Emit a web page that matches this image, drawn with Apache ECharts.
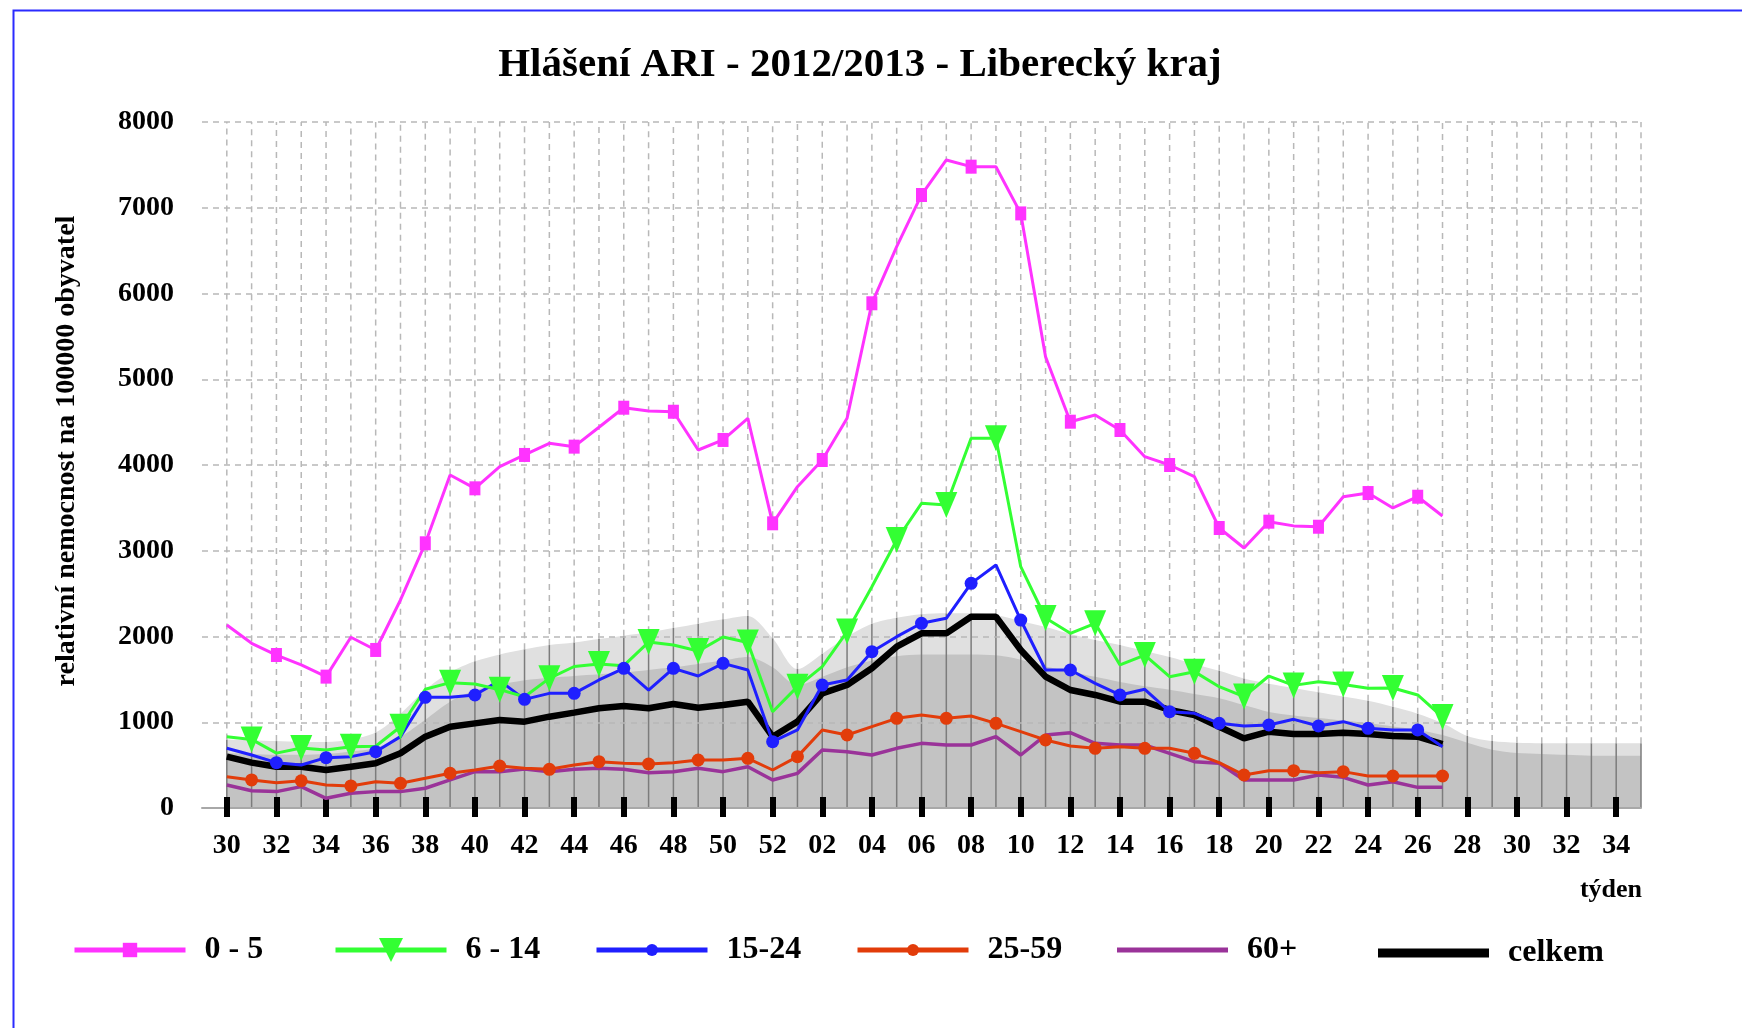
<!DOCTYPE html>
<html><head><meta charset="utf-8">
<script src="https://cdn.jsdelivr.net/npm/echarts@6/dist/echarts.min.js"></script>
<style>html,body{margin:0;padding:0;background:#fff}#c{width:1742px;height:1028px}</style>
</head><body><div id="c"></div><script>
// ---------- DATA ----------
const titleText = 'Hlášení ARI - 2012/2013 - Liberecký kraj';
const yName = 'relativní nemocnost na 100000 obyvatel';
const xName = 'týden';
const weeks = ['29','30','31','32','33','34','35','36','37','38','39','40','41','42','43','44','45','46','47','48','49','50','51','52',
  '01','02','03','04','05','06','07','08','09','10','11','12','13','14','15','16','17','18','19','20','21','22','23','24','25','26','27','28','29','30','31','32','33','34','35'];
const yTicks = [0,1000,2000,3000,4000,5000,6000,7000,8000];
const seriesNames = ['0 - 5','6 - 14','15-24','25-59','60+','celkem'];
// values for weeks 30/2012 ... 27/2013
const age0_5 = [2134,1921,1784,1668,1532,1991,1843,2426,3087,3883,3728,3980,4117,4253,4214,4440,4668,4630,4621,4175,4292,4545,3320,
  3747,4058,4545,5886,6546,7149,7557,7479,7479,6934,5263,4505,4583,4408,4097,4000,3864,3265,3032,3339,3290,3280,3630,3673,3499,3630,3405];
const age6_14 = [830,800,640,700,676,715,720,948,1384,1462,1446,1380,1298,1512,1650,1680,1660,1935,1900,1830,1995,1930,1123,
  1415,1648,2057,2581,3125,3553,3534,4311,4311,2814,2216,2037,2154,1668,1784,1531,1590,1415,1300,1539,1430,1473,1440,1396,1400,1318,1060];
const age15_24 = [696,618,529,501,587,599,657,832,1291,1291,1318,1485,1267,1337,1337,1493,1629,1376,1629,1539,1687,1609,774,
  910,1434,1493,1823,1998,2154,2212,2620,2834,2192,1609,1609,1454,1318,1384,1123,1104,987,956,968,1034,956,1007,929,910,910,715];
const age25_59 = [365,327,295,318,268,257,307,288,346,405,443,490,463,451,501,540,521,513,529,560,560,579,443,
  599,910,851,949,1046,1085,1046,1073,987,890,793,723,696,715,696,696,638,529,385,435,435,412,424,373,373,373,373];
const age60 = [268,202,191,249,113,171,191,191,230,327,424,424,455,424,451,463,451,412,424,463,424,482,327,
  404,676,657,618,696,754,735,735,832,618,851,878,754,735,735,638,540,521,327,327,327,385,358,268,307,241,241];
const total = [599,529,482,482,443,482,521,638,832,948,987,1026,1007,1065,1112,1163,1190,1163,1213,1170,1201,1240,832,
  1007,1337,1434,1629,1881,2037,2037,2231,2231,1843,1532,1376,1318,1240,1240,1143,1085,948,812,890,863,863,878,863,840,832,746];
// reference bands for weeks 30/2012 ... 35/2013
const bandUpper = [800,790,780,770,770,800,880,1100,1380,1580,1710,1790,1850,1900,1930,1970,2010,2050,2100,2150,2200,2240,1980,
  1620,1800,2000,2150,2220,2260,2270,2270,2250,2180,2110,2030,1960,1900,1830,1760,1680,1600,1510,1450,1400,1350,1300,1250,1180,1100,990,840,780,760,755,755,755,755,755];
const bandLower = [640,630,620,620,630,660,700,830,1030,1240,1370,1440,1490,1520,1540,1560,1580,1610,1640,1680,1720,1760,1640,
  1430,1530,1640,1720,1770,1790,1790,1790,1780,1730,1650,1590,1530,1470,1420,1380,1330,1280,1200,1120,1080,1050,1020,990,950,910,850,760,680,640,630,620,610,610,610];

// ---------- CHART ----------
const FONT = "'Liberation Serif','Times New Roman',serif";
const yMin = yTicks[0], yMax = yTicks[yTicks.length - 1], yStep = yTicks[1] - yTicks[0];
const tickInterval = (i) => i % 2 === 1;
function withMarkers(values, phase) {
  return [null].concat(values.map((v, i) => (i % 2 === phase && i > 0) ? v : { value: v, symbol: 'none' }));
}
const pad = arr => [null].concat(arr);

const colors = ['#ff33ff', '#33ff33', '#1f1fff', '#e23c0a', '#9a3399', '#000000'];

function lineSeries(name, data, color, width, symbol, size, extra) {
  return Object.assign({
    type: 'line', name: name, data: data, color: color,
    lineStyle: { color: color, width: width }, itemStyle: { color: color },
    symbol: symbol, symbolSize: size, showAllSymbol: true, connectNulls: false,
    emphasis: { disabled: true }, animation: false
  }, extra || {});
}

const option = {
  backgroundColor: '#ffffff',
  animation: false,
  graphic: [{ type: 'rect', left: 11, top: 8, shape: { width: 1800, height: 1100 },
    style: { fill: 'none', stroke: '#2b2bff', lineWidth: 2 }, silent: true, z: 100 }],
  title: [
    { text: titleText, left: 855, top: 40, textAlign: 'center',
      textStyle: { fontFamily: FONT, fontSize: 41, fontWeight: 'bold', color: '#000' } },
    { text: xName, left: 1606, top: 872, textAlign: 'center',
      textStyle: { fontFamily: FONT, fontSize: 26, fontWeight: 'bold', color: '#000' } }
  ],
  grid: { left: 202, right: 101, top: 122, bottom: 220 },
  xAxis: [
    { type: 'category', data: weeks, boundaryGap: false,
      axisLine: { show: true, lineStyle: { color: '#a8a8a8', width: 2 } },
      axisTick: { show: true, inside: true, length: 11, interval: tickInterval, lineStyle: { color: '#000', width: 6 } },
      axisLabel: { interval: tickInterval, margin: 24, fontFamily: FONT, fontSize: 28, fontWeight: 'bold', color: '#000' },
      splitLine: { show: false } },
    { type: 'category', data: weeks, boundaryGap: false, position: 'bottom',
      axisLine: { show: false },
      axisTick: { show: true, inside: false, length: 9, interval: tickInterval, lineStyle: { color: '#000', width: 6 } },
      axisLabel: { show: false }, splitLine: { show: false } }
  ],
  yAxis: { type: 'value', min: yMin, max: yMax, interval: yStep,
    axisLine: { show: false }, axisTick: { show: false },
    axisLabel: { fontFamily: FONT, fontSize: 28, fontWeight: 'bold', color: '#000', margin: 28,
      formatter: (v) => String(v) },
    splitLine: { show: true, lineStyle: { color: '#b8b8b8', width: 1.5, type: [6, 5] } },
    name: yName, nameLocation: 'middle', nameGap: 121, nameRotate: 90,
    nameTextStyle: { fontFamily: FONT, fontSize: 28, fontWeight: 'bold', color: '#000', padding: [0, 0, 0, 28] } },
  legend: [
    { name: seriesNames[0], left: 72, h: 18, lw: 5, top: 934 },
    { name: seriesNames[1], left: 333, h: 30, lw: 5, top: 934 },
    { name: seriesNames[2], left: 594, h: 15, lw: 5, top: 934 },
    { name: seriesNames[3], left: 855, h: 15, lw: 5, top: 934 },
    { name: seriesNames[4], left: 1117, h: 5, icon: 'rect', top: 934 },
    { name: seriesNames[5], left: 1378, h: 9, icon: 'rect', top: 937 }
  ].map(d => Object.assign({
    data: [d.name], left: d.left, top: d.top, itemWidth: 111, itemHeight: d.h,
    selectedMode: false, padding: 0,
    lineStyle: d.lw ? { width: d.lw } : undefined,
    textStyle: { fontFamily: FONT, fontSize: 32, fontWeight: 'bold', color: '#000', padding: [6, 0, 0, 14] }
  }, d.icon ? { icon: d.icon } : {})),
  series: [
    { type: 'line', name: 'bandUpper', data: pad(bandUpper), symbol: 'none', smooth: 0.3,
      lineStyle: { width: 0 }, itemStyle: { color: '#e0e0e0' }, areaStyle: { color: '#e0e0e0', opacity: 1 },
      z: -3, silent: true },
    { type: 'line', name: 'bandLower', data: pad(bandLower), symbol: 'none', smooth: 0.3,
      lineStyle: { width: 0 }, itemStyle: { color: '#c3c3c3' }, areaStyle: { color: '#c3c3c3', opacity: 1 },
      z: -2, silent: true },
    { type: 'custom', name: 'weekLines', silent: true, z: -1,
      data: bandUpper.map((v, i) => [i + 1, v]),
      encode: { x: 0, y: 1 },
      renderItem: function (params, api) {
        const x = api.value(0), top = api.value(1);
        const p0 = api.coord([x, yMin]), p1 = api.coord([x, top]), p2 = api.coord([x, yMax]);
        return { type: 'group', children: [
          { type: 'line', shape: { x1: p0[0], y1: p0[1], x2: p1[0], y2: p1[1] }, style: { stroke: '#7c7c7c', lineWidth: 1.5 } },
          { type: 'line', shape: { x1: p1[0], y1: p1[1], x2: p2[0], y2: p2[1] }, style: { stroke: '#b8b8b8', lineWidth: 1.5, lineDash: [6, 5] } }
        ] };
      } },
    lineSeries(seriesNames[5], pad(total), colors[5], 6.5, 'none', 0),
    lineSeries(seriesNames[4], pad(age60), colors[4], 3.5, 'none', 0),
    lineSeries(seriesNames[3], withMarkers(age25_59, 1), colors[3], 3, 'circle', 13),
    lineSeries(seriesNames[2], withMarkers(age15_24, 0), colors[2], 3, 'circle', 13),
    lineSeries(seriesNames[1], withMarkers(age6_14, 1), colors[1], 3, 'triangle', [22, 26], { symbolRotate: 180 }),
    lineSeries(seriesNames[0], withMarkers(age0_5, 0), colors[0], 3, 'rect', [11, 14])
  ]
};
const chart = echarts.init(document.getElementById('c'));
chart.setOption(option);
</script></body></html>
